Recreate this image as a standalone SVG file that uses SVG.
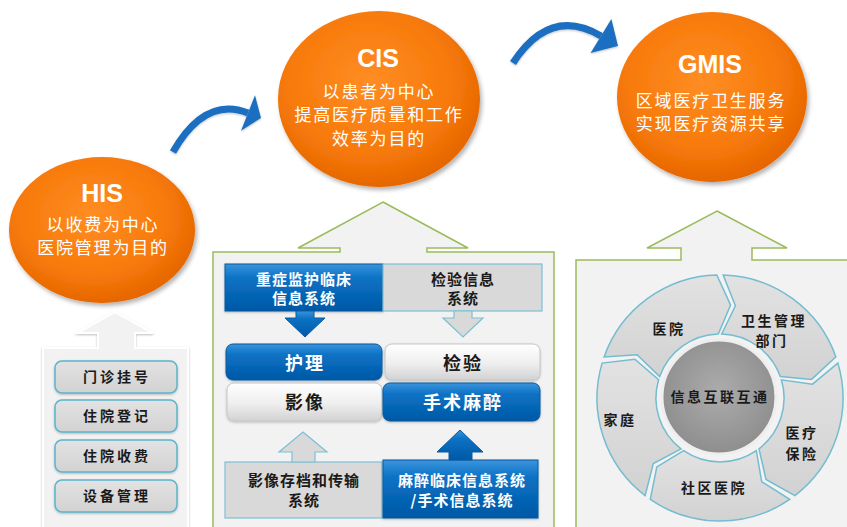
<svg xmlns="http://www.w3.org/2000/svg" width="847" height="527" viewBox="0 0 847 527">
<defs>
<radialGradient id="orange" cx="45%" cy="40%" r="62%">
<stop offset="0" stop-color="#ff8d24"/>
<stop offset="0.65" stop-color="#f77a0a"/>
<stop offset="1" stop-color="#e46400"/>
</radialGradient>
<linearGradient id="blue" x1="0" y1="0" x2="0" y2="1">
<stop offset="0" stop-color="#3b93dc"/>
<stop offset="0.3" stop-color="#0b72c4"/>
<stop offset="1" stop-color="#0058a6"/>
</linearGradient>
<linearGradient id="silver" x1="0" y1="0" x2="0" y2="1">
<stop offset="0" stop-color="#ffffff"/>
<stop offset="0.55" stop-color="#eeeeee"/>
<stop offset="1" stop-color="#d2d2d2"/>
</linearGradient>
<linearGradient id="gray" x1="0" y1="0" x2="0" y2="1">
<stop offset="0" stop-color="#e2e2e2"/>
<stop offset="1" stop-color="#d2d2d2"/>
</linearGradient>
<radialGradient id="hub" cx="50%" cy="45%" r="55%">
<stop offset="0" stop-color="#acacac"/>
<stop offset="1" stop-color="#8e8e8e"/>
</radialGradient>
<filter id="shadow" x="-10%" y="-10%" width="125%" height="130%">
<feDropShadow dx="2" dy="3" stdDeviation="2" flood-color="#000" flood-opacity="0.3"/>
</filter>
<filter id="soft" x="-5%" y="-5%" width="110%" height="115%">
<feDropShadow dx="0" dy="1" stdDeviation="1.2" flood-color="#000" flood-opacity="0.25"/>
</filter>
<style>
.orb{fill:url(#orange);filter:url(#shadow)}
.ttl{font-family:"Liberation Sans",Arial,sans-serif;font-weight:bold;font-size:25px;fill:#fff;text-anchor:middle}
.sub{font-family:"Noto Sans CJK SC",sans-serif;font-size:17px;fill:#fff;text-anchor:middle;letter-spacing:1.8px}
.panel{fill:#f2f2f2;stroke:#9bbb59;stroke-width:1.5}
.panelw{fill:#f2f2f2;stroke:#ffffff;stroke-width:2;filter:url(#soft)}
.item{fill:url(#gray);stroke:#5ab4cc;stroke-width:1.5;filter:url(#soft)}
.blue{fill:url(#blue);stroke:#0a5aa0;stroke-width:1;filter:url(#soft)}
.grey{fill:#d9d9d9;stroke:#7cc0d4;stroke-width:1.2}
.silv{fill:url(#silver);stroke:#c6c6c6;stroke-width:1;filter:url(#soft)}
.seg{fill:url(#gray);stroke:#74bcd0;stroke-width:1.5}
.b14{font-family:"Noto Sans CJK SC",sans-serif;font-weight:bold;font-size:14px;fill:#1a1a1a;text-anchor:middle;letter-spacing:3px}
.b15{font-family:"Noto Sans CJK SC",sans-serif;font-weight:bold;font-size:15px;fill:#1a1a1a;text-anchor:middle;letter-spacing:1px}
.b18{font-family:"Noto Sans CJK SC",sans-serif;font-weight:bold;font-size:18px;fill:#1a1a1a;text-anchor:middle;letter-spacing:2px}
.r14{font-family:"Noto Sans CJK SC",sans-serif;font-weight:bold;font-size:14px;fill:#1a1a1a;text-anchor:middle;letter-spacing:2.5px}
.w{fill:#ffffff}
.curve{fill:none;stroke:#1d6ec0;stroke-width:7}
.head{fill:#1d6ec0}
</style>
</defs>
<rect width="847" height="527" fill="#ffffff"/>

<!-- panels -->
<g id="panel-his">
<path class="panelw" d="M115,312 L153,333 L135,333 L135,348 L188,348 L188,530 L43,530 L43,348 L98,348 L98,333 L78,333 Z"/>
</g>
<g id="panel-cis">
<path class="panel" d="M383,202 L468,248 L427,248 L427,252 L554,252 L554,530 L213,530 L213,252 L340,252 L340,248 L298,248 Z"/>
</g>
<g id="panel-gmis">
<path class="panel" d="M717,211 L787,248 L752,248 L752,260 L850,260 L850,530 L576,530 L576,260 L681,260 L681,248 L647,248 Z"/>
</g>

<!-- orbs -->
<g id="his">
<ellipse class="orb" cx="102" cy="230" rx="93" ry="73"/>
<text class="ttl" x="102" y="202">HIS</text>
<text class="sub" x="103" y="231">以收费为中心</text>
<text class="sub" x="103" y="254">医院管理为目的</text>
</g>
<g id="cis">
<ellipse class="orb" cx="379" cy="99" rx="101" ry="88"/>
<text class="ttl" x="378" y="67">CIS</text>
<text class="sub" x="379" y="98">以患者为中心</text>
<text class="sub" x="379" y="121">提高医疗质量和工作</text>
<text class="sub" x="379" y="145">效率为目的</text>
</g>
<g id="gmis">
<ellipse class="orb" cx="712" cy="97" rx="95" ry="85"/>
<text class="ttl" x="710" y="73">GMIS</text>
<text class="sub" x="711" y="107">区域医疗卫生服务</text>
<text class="sub" x="711" y="130">实现医疗资源共享</text>
</g>

<!-- HIS items -->
<g id="his-1"><rect class="item" x="55" y="361" width="122" height="32" rx="7"/><text class="b14" x="117" y="382">门诊挂号</text></g>
<g id="his-2"><rect class="item" x="55" y="400" width="122" height="32" rx="7"/><text class="b14" x="117" y="421">住院登记</text></g>
<g id="his-3"><rect class="item" x="55" y="440" width="122" height="32" rx="7"/><text class="b14" x="117" y="461">住院收费</text></g>
<g id="his-4"><rect class="item" x="55" y="480" width="122" height="32" rx="7"/><text class="b14" x="117" y="501">设备管理</text></g>

<!-- CIS items -->
<g id="icu">
<rect class="blue" x="225" y="264" width="158" height="47"/>
<text class="b15 w" x="304" y="285">重症监护临床</text>
<text class="b15 w" x="304" y="304">信息系统</text>
</g>
<g id="lis">
<rect class="grey" x="383" y="264" width="159" height="47"/>
<text class="b15" x="463" y="285">检验信息</text>
<text class="b15" x="463" y="304">系统</text>
</g>
<g id="nursing"><rect class="blue" x="226" y="344" width="156" height="36" rx="7"/><text class="b18 w" x="305" y="370">护理</text></g>
<g id="lab"><rect class="silv" x="385" y="344" width="155" height="36" rx="7"/><text class="b18" x="463" y="370">检验</text></g>
<g id="imaging"><rect class="silv" x="227" y="383" width="155" height="38" rx="7"/><text class="b18" x="305" y="409">影像</text></g>
<g id="surgery"><rect class="blue" x="383" y="383" width="157" height="38" rx="7"/><text class="b18 w" x="463" y="409">手术麻醉</text></g>
<g id="pacs">
<rect class="grey" x="225" y="462" width="157" height="56"/>
<text class="b15" x="304" y="486">影像存档和传输</text>
<text class="b15" x="304" y="506">系统</text>
</g>
<g id="aims">
<rect class="blue" x="383" y="460" width="155" height="58"/>
<text class="b15 w" x="462" y="486">麻醉临床信息系统</text>
<text class="b15 w" x="462" y="506">/手术信息系统</text>
</g>

<!-- GMIS ring -->
<g id="ring">
<path class="seg" d="M723.2,275.0 A123,123 0 0 1 835.9,356.9 L811.6,379.4 L780.3,376.6 A64,64 0 0 0 721.7,334.0 L735.4,305.8 Z"/>
<path class="seg" d="M837.9,363.1 A123,123 0 0 1 794.9,495.6 L766.0,479.4 L759.0,448.8 A64,64 0 0 0 781.4,379.8 L812.5,384.2 Z"/>
<path class="seg" d="M789.7,499.4 A123,123 0 0 1 650.3,499.4 L656.8,466.9 L683.7,450.7 A64,64 0 0 0 756.3,450.7 L761.7,481.7 Z"/>
<path class="seg" d="M645.1,495.6 A123,123 0 0 1 602.1,363.1 L634.9,359.2 L658.6,379.8 A64,64 0 0 0 681.0,448.8 L653.3,463.5 Z"/>
<path class="seg" d="M604.1,356.9 A123,123 0 0 1 716.8,275.0 L730.6,305.1 L718.3,334.0 A64,64 0 0 0 659.7,376.6 L637.1,354.8 Z"/>
</g>
<g id="hospital"><text class="r14" x="669" y="334">医院</text></g>
<g id="health-dept"><text class="r14" x="774" y="326">卫生管理</text><text class="r14" x="772" y="346">部门</text></g>
<g id="insurance"><text class="r14" x="802" y="438">医疗</text><text class="r14" x="802" y="459">保险</text></g>
<g id="community"><text class="r14" x="714" y="493">社区医院</text></g>
<g id="family"><text class="r14" x="620" y="425">家庭</text></g>
<g id="hub-node">
<circle cx="719" cy="397" r="57" fill="url(#hub)" stroke="#eeeeee" stroke-width="3"/>
<text class="r14" x="720" y="402">信息互联互通</text>
</g>

<!-- connectors -->
<g id="connectors">
<g filter="url(#soft)">
<path class="curve" d="M173,152 Q205,96 248,113"/>
<polygon class="head" points="255,95.3 261,118 241,130.7"/>
<path class="curve" d="M513,63 Q550,6 601,36"/>
<polygon class="head" points="611.4,18.9 618,46 590.6,53.1"/>
</g>
<polygon points="296,311 314,311 314,318 325,318 305,337 285,318 296,318" fill="url(#blue)" stroke="#0a5aa0" stroke-width="1"/>
<polygon points="454,311 472,311 472,318 483,318 463,337 443,318 454,318" fill="#d9d9d9" stroke="#7cc0d4" stroke-width="1.2"/>
<polygon points="303,432 327,452 315,452 315,462 292,462 292,452 279,452" fill="#d9d9d9" stroke="#7cc0d4" stroke-width="1.2"/>
<polygon points="460,430 483,452 472,452 472,460 449,460 449,452 437,452" fill="url(#blue)" stroke="#0a5aa0" stroke-width="1"/>
</g>
</svg>
